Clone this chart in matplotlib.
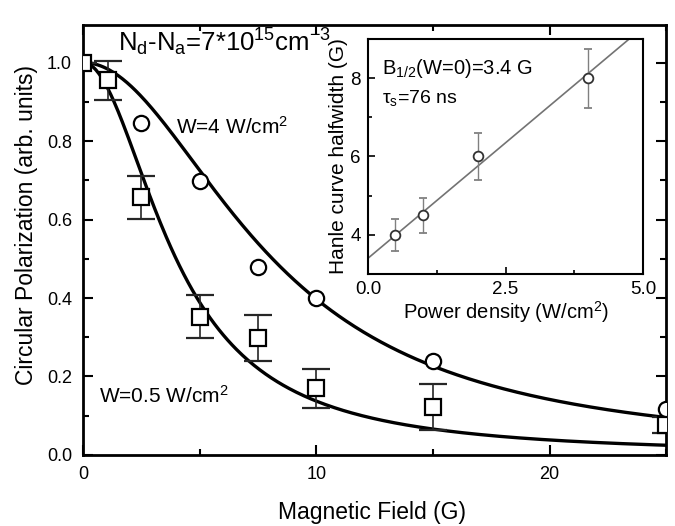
import numpy as np
import matplotlib
matplotlib.use("Agg")
import matplotlib.pyplot as plt
from matplotlib.ticker import MultipleLocator

plt.rcParams['font.family'] = ['Liberation Sans', 'DejaVu Sans']
plt.rcParams['mathtext.fontset'] = 'custom'
plt.rcParams['mathtext.rm'] = 'Liberation Sans'
plt.rcParams['mathtext.it'] = 'Liberation Sans'

# Hanle curves: W = 4 W/cm^2 (circles) and W = 0.5 W/cm^2 (squares)
field_hi = [2.5, 5.0, 7.5, 10.0, 15.0, 25.0]
pol_hi = [0.846, 0.698, 0.479, 0.40, 0.24, 0.117]

field_lo = [0.0, 1.05, 2.5, 5.0, 7.5, 10.0, 15.0, 25.0]
pol_lo = [1.0, 0.955, 0.657, 0.352, 0.298, 0.17, 0.122, 0.076]
err_lo = [0.0, 0.05, 0.055, 0.055, 0.058, 0.05, 0.058, 0.02]

# Inset: half-width versus excitation power density
power = [0.5, 1.0, 2.0, 4.0]
halfwidth = [4.0, 4.5, 6.0, 8.0]
halfwidth_err = [0.4, 0.45, 0.6, 0.75]
fit_intercept = 3.4
fit_slope = 1.18

# Lorentzian half-widths (G) of the two Hanle fits, from the linear fit
power_hi, power_lo = 4.0, 0.5
halfwidth_hi = fit_intercept + fit_slope * power_hi
halfwidth_lo = fit_intercept + fit_slope * power_lo

fig = plt.figure(figsize=(6.75, 5.26), dpi=100)
ax = fig.add_axes([0.123, 0.135, 0.864, 0.817])

B = np.linspace(0, 25, 400)
ax.plot(B, 1.0 / (1.0 + (B / halfwidth_hi) ** 2), color='black', lw=2.4)
ax.plot(B, 1.0 / (1.0 + (B / halfwidth_lo) ** 2), color='black', lw=2.4)

ax.errorbar(field_lo, pol_lo, yerr=err_lo, fmt='s', ms=11, mfc='white',
            mec='black', mew=1.6, ecolor='0.15', elinewidth=1.2, capsize=10,
            capthick=1.2, zorder=5)
ax.plot(field_hi, pol_hi, 'o', ms=11, mfc='white', mec='black', mew=1.6,
        zorder=5)

ax.set_xlim(0, 25)
ax.set_ylim(0, 1.095)
ax.xaxis.set_major_locator(MultipleLocator(10))
ax.xaxis.set_minor_locator(MultipleLocator(5))
ax.yaxis.set_major_locator(MultipleLocator(0.2))
ax.yaxis.set_minor_locator(MultipleLocator(0.1))
ax.yaxis.set_major_formatter(plt.FuncFormatter(lambda v, p: f"{v:.1f}"))
ax.tick_params(which='both', direction='in', top=True, right=True,
               labelsize=13, width=1.5)
ax.tick_params(which='major', length=7, pad=8)
ax.tick_params(which='minor', length=4)
for s in ax.spines.values():
    s.set_linewidth(2)

ax.set_xlabel('Magnetic Field (G)', fontsize=16.5)
ax.xaxis.set_label_coords(0.496, -0.107)
ax.set_ylabel('Circular Polarization (arb. units)', fontsize=16.5)
ax.yaxis.set_label_coords(-0.077, 0.535)

ax.text(1.5, 1.052, r'N$_\mathrm{d}$-N$_\mathrm{a}$=7*10$^{15}$cm$^{-3}$',
        fontsize=18.5, va='center', ha='left')
ax.text(4.0, 0.835, r'W=4 W/cm$^2$', fontsize=15, va='center', ha='left')
ax.text(0.7, 0.15, r'W=0.5 W/cm$^2$', fontsize=15, va='center', ha='left')

# Inset
ins = fig.add_axes([0.545, 0.479, 0.408, 0.447])
P = np.linspace(0, 5, 100)
ins.plot(P, fit_intercept + fit_slope * P, color='0.45', lw=1.2)
ins.errorbar(power, halfwidth, yerr=halfwidth_err, fmt='o', ms=7,
             mfc='white', mec='0.2', mew=1.3, ecolor='0.5',
             elinewidth=1.0, capsize=3, capthick=1.0, zorder=5)
ins.set_xlim(0, 5)
ins.set_ylim(3, 9)
ins.xaxis.set_major_locator(MultipleLocator(2.5))
ins.xaxis.set_minor_locator(MultipleLocator(1.25))
ins.xaxis.set_major_formatter(plt.FuncFormatter(lambda v, p: f"{v:.1f}"))
ins.yaxis.set_major_locator(MultipleLocator(2))
ins.yaxis.set_minor_locator(MultipleLocator(1))
ins.tick_params(which='both', direction='in', labelsize=13.5, width=1.2)
ins.tick_params(which='major', length=5, pad=5)
ins.tick_params(which='minor', length=3)
for s in ins.spines.values():
    s.set_linewidth(1.5)
ins.set_xlabel(r'Power density (W/cm$^2$)', fontsize=14.5, labelpad=1)
ins.set_ylabel('Hanle curve halfwidth (G)', fontsize=15, labelpad=2)
ins.text(0.25, 8.25, r'B$_{1/2}$(W=0)=3.4 G', fontsize=14.5, va='center')
ins.text(0.25, 7.5, r'$\tau_\mathrm{s}$=76 ns', fontsize=14, va='center')

fig.savefig('out.png', dpi=100)
